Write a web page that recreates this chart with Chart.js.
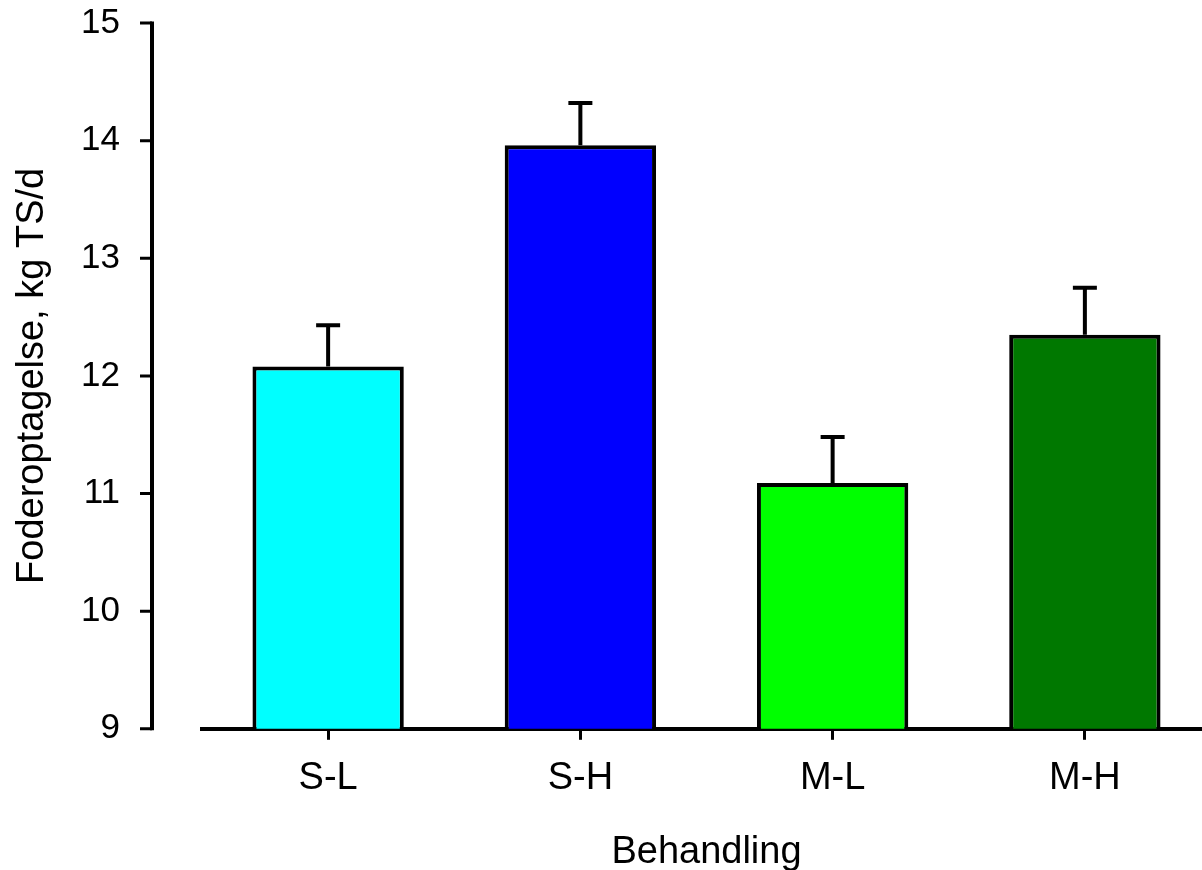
<!DOCTYPE html>
<html>
<head>
<meta charset="utf-8">
<script src="https://cdn.jsdelivr.net/npm/chart.js@4"></script>
<style>
  html, body { margin: 0; padding: 0; background: #fff; overflow: hidden; }
  #wrap { width: 1212px; height: 870px; }
</style>
</head>
<body>
<div id="wrap"><canvas id="intakeChart" width="1212" height="870"></canvas></div>
<script>
// Foderoptagelse per behandling, middel + SE
const categories = ['S-L', 'S-H', 'M-L', 'M-H'];
const means = [12.08, 13.96, 11.09, 12.35];
const stdErr = [0.35, 0.36, 0.39, 0.40];
const barColors = ['#00ffff', '#0000ff', '#00ff00', '#007800'];
const yTicks = [9, 10, 11, 12, 13, 14, 15];

const FONT = 'Liberation Sans, Arial, sans-serif';

// upward error bars with a short cap
const errorBars = {
  id: 'errorBars',
  afterDatasetsDraw(chart) {
    const { ctx } = chart;
    const y = chart.scales.y;
    const meta = chart.getDatasetMeta(0);
    ctx.save();
    ctx.strokeStyle = '#000';
    ctx.lineWidth = 4;
    meta.data.forEach((bar, i) => {
      const top = y.getPixelForValue(means[i] + stdErr[i]);
      ctx.beginPath();
      ctx.moveTo(bar.x, bar.y);
      ctx.lineTo(bar.x, top);
      ctx.moveTo(bar.x - 12, top);
      ctx.lineTo(bar.x + 12, top);
      ctx.stroke();
    });
    ctx.restore();
  }
};

// y axis line sits detached to the left of the plot
const detachedYAxis = {
  id: 'detachedYAxis',
  afterDraw(chart) {
    const { ctx } = chart;
    const y = chart.scales.y;
    const x0 = 152;
    ctx.save();
    ctx.strokeStyle = '#000';
    ctx.lineWidth = 4;
    ctx.beginPath();
    ctx.moveTo(x0, y.getPixelForValue(15) - 1.5);
    ctx.lineTo(x0, y.getPixelForValue(9) + 1.5);
    ctx.stroke();
    ctx.lineWidth = 3;
    ctx.beginPath();
    yTicks.forEach(v => {
      const py = y.getPixelForValue(v);
      ctx.moveTo(x0, py);
      ctx.lineTo(x0 - 12, py);
    });
    ctx.stroke();
    ctx.restore();
  }
};

new Chart(document.getElementById('intakeChart'), {
  type: 'bar',
  data: {
    labels: categories,
    datasets: [{
      data: means,
      backgroundColor: barColors,
      borderColor: '#000',
      borderWidth: 4,
      borderSkipped: false,
      barPercentage: 0.6,
      categoryPercentage: 1.0,
    }]
  },
  options: {
    responsive: false,
    animation: false,
    layout: { padding: { top: 22, right: 1, bottom: 0, left: 0 } },
    plugins: { legend: { display: false }, tooltip: { enabled: false } },
    scales: {
      x: {
        grid: {
          display: true,
          drawOnChartArea: false,
          offset: false,
          color: '#000',
          lineWidth: 3,
          tickLength: 11,
        },
        border: { display: true, color: '#000', width: 4 },
        ticks: { color: '#000', padding: 16, font: { family: FONT, size: 38 } },
        title: {
          display: true,
          text: 'Behandling',
          color: '#000',
          padding: { top: 12, bottom: -5 },
          font: { family: FONT, size: 38 },
        },
      },
      y: {
        min: 9,
        max: 15,
        // invisible tick marks push the labels out to the left
        grid: {
          display: true,
          drawOnChartArea: false,
          drawTicks: true,
          tickLength: 80,
          color: 'rgba(0,0,0,0)',
        },
        border: { display: false },
        afterBuildTicks: scale => { scale.ticks = yTicks.map(v => ({ value: v })); },
        afterFit: scale => { scale.width = 202; },
        ticks: { color: '#000', padding: 2, font: { family: FONT, size: 35 } },
        title: {
          display: true,
          text: 'Foderoptagelse, kg TS/d',
          color: '#000',
          padding: { top: 10, bottom: 0 },
          font: { family: FONT, size: 38 },
        },
      }
    }
  },
  plugins: [errorBars, detachedYAxis]
});
</script>
</body>
</html>
